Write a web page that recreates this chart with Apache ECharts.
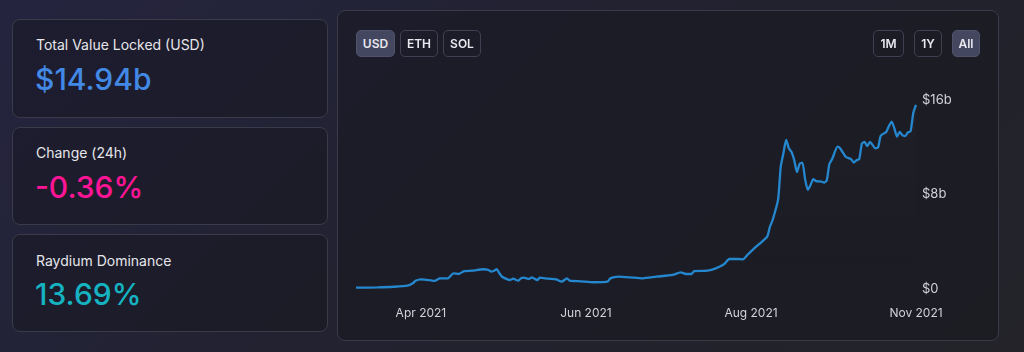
<!DOCTYPE html>
<html lang="en">
<head>
<meta charset="UTF-8">
<title>Raydium TVL</title>
<script src="https://cdn.jsdelivr.net/npm/echarts@6/dist/echarts.min.js"></script>
<style>
  html, body { margin: 0; padding: 0; }
  body {
    width: 1024px; height: 352px; overflow: hidden; position: relative;
    font-family: Inter, "Noto Sans", sans-serif;
    background: linear-gradient(135deg, #25243f 0%, #222231 45%, #232329 100%);
    color: #e6e6ea;
  }
  .card {
    position: absolute; box-sizing: border-box;
    border: 1px solid #3a3b49; border-radius: 8px;
    background: rgba(16, 16, 24, 0.35);
  }
  .stat .label { position: absolute; left: 23px; top: 16px; font-size: 14px; line-height: 18px; }
  .stat .value { position: absolute; left: 22px; top: 42px; font-size: 30px; line-height: 34px; font-weight: 500; }
  .btn {
    position: absolute; box-sizing: border-box; height: 27px; top: 19px;
    border: 1px solid #3f4153; border-radius: 5px;
    font-size: 12px; font-weight: 600; line-height: 25px; text-align: center; color: #e8e8ee;
  }
  .btn.on { background: #444760; border-color: #4f5269; }
  #main { position: absolute; left: 0; top: 0; width: 660px; height: 329px; }
</style>
</head>
<body>
  <div class="card stat" style="left:12px; top:19px; width:316px; height:99px;">
    <div class="label">Total Value Locked (USD)</div>
    <div class="value" style="color:#4289e6;">$14.94b</div>
  </div>
  <div class="card stat" style="left:12px; top:127px; width:316px; height:98px;">
    <div class="label">Change (24h)</div>
    <div class="value" style="color:#ff1496;">-0.36%</div>
  </div>
  <div class="card stat" style="left:12px; top:234px; width:316px; height:98px;">
    <div class="label" style="top:17px;">Raydium Dominance</div>
    <div class="value" style="color:#15b3c2;">13.69%</div>
  </div>

  <div class="card" style="left:337px; top:10px; width:662px; height:331px;">
    <div id="main"></div>
    <div class="btn on" style="left:18px; width:39px;">USD</div>
    <div class="btn" style="left:62px; width:38px;">ETH</div>
    <div class="btn" style="left:105px; width:38px;">SOL</div>
    <div class="btn" style="left:535px; width:31px;">1M</div>
    <div class="btn" style="left:576px; width:28px;">1Y</div>
    <div class="btn on" style="left:614px; width:28px;">All</div>
  </div>

<script type="text/javascript">
// TVL in billions of USD
var dates = [
  '2021-03-08','2021-03-16','2021-03-22','2021-03-27','2021-03-29','2021-03-30',
  '2021-04-01','2021-04-04','2021-04-06','2021-04-08','2021-04-11','2021-04-13',
  '2021-04-15','2021-04-17','2021-04-20','2021-04-24','2021-04-26','2021-04-27',
  '2021-04-28','2021-04-29','2021-04-30','2021-05-01','2021-05-03','2021-05-04',
  '2021-05-05','2021-05-07','2021-05-08','2021-05-09','2021-05-11','2021-05-12',
  '2021-05-14','2021-05-15','2021-05-18','2021-05-21','2021-05-23','2021-05-25',
  '2021-05-26','2021-05-30','2021-06-04','2021-06-09','2021-06-10','2021-06-13',
  '2021-06-17','2021-06-22','2021-06-27','2021-07-03','2021-07-06','2021-07-08',
  '2021-07-10','2021-07-11','2021-07-16','2021-07-19','2021-07-22','2021-07-24',
  '2021-07-27','2021-07-29','2021-07-31','2021-08-02','2021-08-04','2021-08-07',
  '2021-08-08','2021-08-09','2021-08-11','2021-08-12','2021-08-13','2021-08-14',
  '2021-08-15','2021-08-16','2021-08-17','2021-08-18','2021-08-19','2021-08-20',
  '2021-08-21','2021-08-22','2021-08-23','2021-08-24','2021-08-25','2021-08-27',
  '2021-08-28','2021-08-29','2021-08-30','2021-08-31','2021-09-02','2021-09-03',
  '2021-09-05','2021-09-07','2021-09-08','2021-09-09','2021-09-10','2021-09-11',
  '2021-09-12','2021-09-13','2021-09-14','2021-09-16','2021-09-17','2021-09-18',
  '2021-09-20','2021-09-21','2021-09-22','2021-09-23','2021-09-24','2021-09-25',
  '2021-09-26','2021-09-27','2021-09-28','2021-09-29','2021-09-30','2021-10-01'
];
var tvl = [
  0.11, 0.14, 0.19, 0.28, 0.48, 0.70,
  0.82, 0.76, 0.68, 0.90, 0.90, 1.33,
  1.27, 1.52, 1.55, 1.67, 1.61, 1.47,
  1.55, 1.67, 1.33, 1.04, 0.82, 0.76,
  0.87, 0.70, 0.91, 0.96, 0.85, 0.99,
  0.76, 0.96, 0.87, 0.82, 0.62, 0.90,
  0.70, 0.65, 0.57, 0.62, 0.90, 1.04,
  0.99, 0.90, 1.04, 1.19, 1.41, 1.27,
  1.27, 1.52, 1.55, 1.75, 2.09, 2.54,
  2.54, 2.51, 2.96, 3.40, 3.80, 4.43,
  5.27, 5.84, 7.54, 10.36, 11.49, 12.62,
  11.91, 11.60, 10.90, 9.90, 10.60, 10.70,
  9.30, 8.40, 8.80, 9.30, 9.14, 9.10,
  9.00, 9.20, 10.60, 11.00, 12.05, 11.90,
  11.20, 11.00, 10.70, 10.90, 11.00, 12.30,
  12.45, 12.10, 12.45, 11.90, 12.00, 13.00,
  13.30, 13.80, 14.17, 13.60, 12.90, 13.30,
  13.00, 12.95, 13.25, 13.35, 14.90, 15.58
];
var tickDates = ['2021-04-01', '2021-06-01', '2021-08-01', '2021-10-01'];
var tickLabels = ['Apr 2021', 'Jun 2021', 'Aug 2021', 'Nov 2021'];
var yTicks = [0, 8, 16];

// x is counted in days from the first date
var DAY = 86400000;
function toTime(s) {
  var p = s.split('-');
  return Date.UTC(+p[0], +p[1] - 1, +p[2]);
}
var t0 = toTime(dates[0]);
function toDay(s) { return Math.round((toTime(s) - t0) / DAY); }

var tickDays = tickDates.map(toDay);
var seriesData = [];
for (var i = 0; i < dates.length; i++) {
  seriesData.push([toDay(dates[i]), tvl[i]]);
}

var myChart = echarts.init(document.getElementById('main'));
myChart.setOption({
  animation: false,
  grid: { left: 18, top: 89, width: 560, height: 189 },
  xAxis: {
    type: 'value',
    min: 0,
    max: toDay(dates[dates.length - 1]),
    axisLine: { show: false },
    axisTick: { show: false },
    splitLine: { show: false },
    axisLabel: {
      customValues: tickDays,
      showMinLabel: true,
      showMaxLabel: true,
      hideOverlap: false,
      margin: 18,
      color: '#d2d2d8',
      fontSize: 12,
      fontFamily: 'Inter',
      formatter: function (v) {
        var k = tickDays.indexOf(Math.round(v));
        return k < 0 ? '' : tickLabels[k];
      }
    }
  },
  yAxis: {
    type: 'value',
    position: 'right',
    min: yTicks[0],
    max: yTicks[yTicks.length - 1],
    interval: yTicks[1] - yTicks[0],
    axisLine: { show: false },
    axisTick: { show: false },
    splitLine: { show: false },
    axisLabel: {
      margin: 6,
      color: '#d2d2d8',
      fontSize: 13,
      fontFamily: 'Inter',
      formatter: function (v) { return v === 0 ? '$0' : '$' + v + 'b'; }
    }
  },
  series: [{
    name: 'TVL',
    type: 'line',
    data: seriesData,
    showSymbol: false,
    smooth: 0.2,
    lineStyle: { color: '#2588cf', width: 2.3 },
    areaStyle: {
      color: new echarts.graphic.LinearGradient(0, 0, 0, 1, [
        { offset: 0, color: 'rgba(255,255,255,0.025)' },
        { offset: 1, color: 'rgba(255,255,255,0)' }
      ])
    }
  }]
});
</script>
</body>
</html>
